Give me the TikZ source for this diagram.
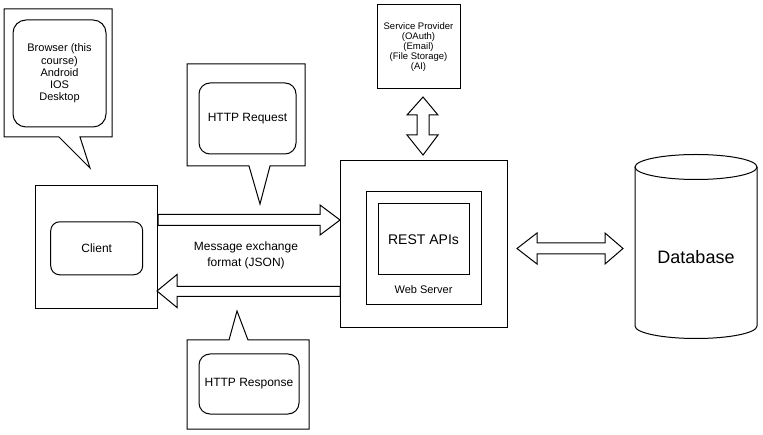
\documentclass[tikz,border=0pt]{standalone}
\usepackage{fontspec}
\setmainfont{Liberation Sans}
\tikzset{
  ln/.style={draw=black, line width=1pt, line join=miter},
  rbox/.style={ln, rounded corners=10pt, align=center, inner sep=0pt},
  sbox/.style={ln, align=center, inner sep=0pt},
  fs/.style={font=\fontsize{#1}{#1*1.2}\selectfont},
}
\begin{document}
\begin{tikzpicture}[x=1pt,y=1pt,yscale=-1]
\useasboundingbox (0,0) rectangle (763,435);
\fill[white] (0,0) rectangle (763,435);

% callouts
\draw[ln] (4,9) -- (112,9) -- (112,137) -- (80,137) -- (90,168) -- (59,137) -- (4,137) -- cycle;
\node[rbox, rounded corners=13pt, minimum width=93pt, minimum height=107pt,
      font=\fontsize{11}{12.2}\selectfont] (browser) at (59.5,73.5)
      {Browser (this\\course)\\Android\\IOS\\Desktop};

\draw[ln] (187,64) -- (305,64) -- (305,166) -- (270,166) -- (260,204) -- (249,166) -- (187,166) -- cycle;
\node[rbox, rounded corners=11pt, minimum width=97pt, minimum height=71pt,
      font=\fontsize{12}{14}\selectfont] (req) at (247.5,118.5) {HTTP Request};

\draw[ln] (187,340) -- (229,340) -- (237,311) -- (248,340) -- (309,340) -- (309,429) -- (187,429) -- cycle;
\node[rbox, rounded corners=11pt, minimum width=100pt, minimum height=60pt,
      font=\fontsize{12}{14}\selectfont] (resp) at (249,384) {HTTP Response};

% client
\node[sbox, minimum width=122pt, minimum height=123pt] (clientbox) at (96.75,247.5) {};
\node[rbox, rounded corners=9pt, minimum width=92pt, minimum height=53pt,
      font=\fontsize{12}{14}\selectfont] (client) at (96.7,248.3) {Client};

% service provider
\node[sbox, minimum width=83pt, minimum height=84pt,
      font=\fontsize{9.5}{10}\selectfont] (sp) at (418.5,47)
      {Service Provider\\(OAuth)\\(Email)\\(File Storage)\\(AI)};

% web server
\node[sbox, minimum width=167pt, minimum height=167pt] (web) at (423.5,244.5) {};
\node[sbox, minimum width=115pt, minimum height=113pt] (webin) at (423.5,248.5) {};
\node[sbox, minimum width=91pt, minimum height=71pt,
      font=\fontsize{14}{16}\selectfont] (rest) at (423.5,239.5) {REST APIs};
\node[font=\fontsize{11}{13}\selectfont] (wslabel) at (423.5,290) {Web Server};

% message label
\node[align=center, font=\fontsize{12}{16}\selectfont] (msg) at (246,255)
      {Message exchange\\format (JSON)};

% database
\draw[ln] (635,167) -- (635,326) arc[start angle=180, end angle=0, x radius=61, y radius=12.5]
          -- (757,167);
\draw[ln] (696,167) ellipse[x radius=61, y radius=12.5];
\node[font=\fontsize{18}{20}\selectfont] (db) at (696,257) {Database};

% request arrow (client -> web)
\draw[ln] (158,214.5) -- (320,214.5) -- (320,205) -- (340,220) -- (320,235) -- (320,225.5) -- (158,225.5) -- cycle;
% response arrow (web -> client)
\draw[ln] (340,286.5) -- (177,286.5) -- (177,274.5) -- (157,291) -- (177,307.5) -- (177,296.5) -- (340,296.5) -- cycle;
% web <-> db
\draw[ln] (517,248.5) -- (537,233) -- (537,243) -- (605,243) -- (605,233) -- (623,248.5)
          -- (605,264) -- (605,254) -- (537,254) -- (537,264) -- cycle;
% sp <-> web
\draw[ln] (423,97) -- (438,115) -- (429,115) -- (429,135) -- (438,135) -- (423,155)
          -- (407,135) -- (417,135) -- (417,115) -- (407,115) -- cycle;
\end{tikzpicture}
\end{document}
